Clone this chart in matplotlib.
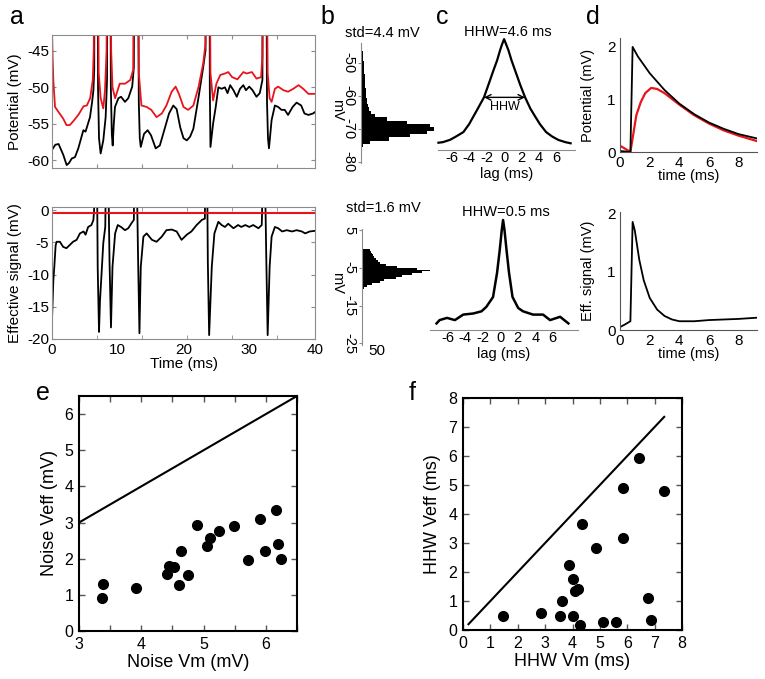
import matplotlib
matplotlib.use('Agg')
import matplotlib.pyplot as plt
import numpy as np

plt.rcParams['font.family'] = ['Liberation Sans', 'DejaVu Sans']
plt.rcParams['axes.unicode_minus'] = False

W, H = 765, 679

# ---------------- data ----------------
# panel a, top: membrane potential (ms, mV)
a_top_black = [(0.0,-58.6),(0.15,-58.4),(0.5,-57.9),(1.0,-57.8),(1.72,-59.3),(2.23,-60.7),(2.6,-60.4),(3.0,-59.8),
    (3.5,-59.6),(4.0,-58.4),(4.77,-55.9),(5.1,-56.1),(5.78,-54.1),(6.1,-52),(6.3,-50.4),(6.42,-47.6),(6.5,-20),
    (6.9,-20),(7.0,-50),(7.15,-57),(7.4,-59.1),(7.8,-57.3),(8.16,-54.1),(8.37,-49),(8.45,-20),(8.85,-20),(8.95,-50),
    (9.1,-56.5),(9.23,-58),(9.4,-55),(9.58,-52.7),(10.1,-51.5),(10.5,-51.3),(11.1,-52),(11.6,-51.5),(12.2,-49.9),
    (12.45,-47.2),(12.55,-20),(13.05,-20),(13.2,-52),(13.35,-57),(13.5,-58.2),(14.0,-56.4),(14.55,-55.9),
    (15.06,-56.6),(15.77,-58.4),(16.4,-58),(17.2,-55.5),(17.8,-53.6),(18.45,-52.5),(18.96,-53),(19.5,-55.5),
    (20.0,-57),(20.5,-57.3),(21.0,-56.8),(21.5,-55.7),(22.3,-51.3),(23.0,-47.2),(23.35,-44.9),(23.45,-20),
    (23.95,-20),(24.0,-50),(24.1,-58.2),(24.5,-55),(24.9,-52.7),(25.3,-50),(25.8,-50.2),(26.3,-50),(26.7,-50.8),
    (27.1,-49.7),(27.6,-50.4),(28.1,-51.3),(28.6,-50.2),(29.1,-49.7),(29.5,-50.4),(30.0,-49.9),(30.5,-50.4),
    (31.1,-51.3),(31.6,-50.8),(32.0,-49),(32.1,-20),(32.55,-20),(32.7,-52),(32.85,-57),(33.0,-58.4),(33.4,-54.5),
    (33.9,-52.5),(34.4,-52.7),(34.9,-53.1),(35.4,-53.1),(35.9,-53.8),(36.6,-52.7),(37.2,-52.1),(37.9,-52.5),
    (38.4,-53.6),(39.0,-53.8),(39.7,-53.6),(40.0,-53.4)]
a_top_red = [(0.0,-42),(0.1,-46),(0.2,-49),(0.46,-52.7),(1.0,-53.4),(1.7,-54.3),(2.2,-55.2),(2.7,-55.2),(3.2,-54.7),
    (4.0,-53.8),(4.8,-52.6),(5.3,-52.5),(5.8,-51.5),(6.2,-49),(6.35,-44.9),(6.42,-20),(6.92,-20),(7.1,-48),
    (7.4,-51.5),(7.8,-52.9),(8.06,-50.4),(8.3,-45),(8.4,-20),(8.85,-20),(9.0,-45),(9.2,-50),(9.6,-51.5),
    (10.3,-49.5),(11.1,-49.5),(11.9,-49),(12.35,-47.6),(12.5,-20),(13.0,-20),(13.2,-48),(13.6,-52.5),(14.4,-52.7),
    (15.1,-53.1),(15.9,-54.1),(16.7,-53.6),(17.4,-52.5),(18.2,-50.6),(18.8,-49.9),(19.3,-50.9),(20.0,-52.7),
    (20.7,-53.1),(21.5,-52.5),(22.3,-49.9),(23.0,-46.7),(23.35,-44),(23.42,-20),(23.92,-20),(24.1,-48),
    (24.5,-51.8),(25.0,-49.5),(25.6,-48.3),(26.3,-48.1),(26.8,-47.9),(27.4,-48.6),(28.2,-48.9),(29.1,-47.9),
    (29.6,-48.1),(30.4,-47.9),(31.1,-48.8),(31.8,-48.6),(32.0,-45.8),(32.08,-20),(32.55,-20),(32.8,-48),
    (33.1,-51.5),(33.4,-52),(33.9,-50.2),(34.4,-49.9),(35.2,-50.4),(35.9,-50.6),(36.7,-50.2),(37.5,-49.7),
    (38.2,-50.2),(39.0,-50.9),(40.0,-50.9)]

# panel a, bottom: effective signal (ms, mV)
a_bot_black = [(0.0,-17),(0.05,-15.5),(0.2,-11),(0.35,-8.8),(0.55,-5.5),(0.7,-4.9),(1.2,-4.9),(1.7,-5.7),(2.2,-5.9),
    (2.7,-5.4),(3.2,-4.9),(3.75,-4.6),(4.25,-3.6),(4.8,-3.3),(5.1,-3.8),(5.5,-2.6),(6.0,-2.3),(6.3,-1.5),(6.4,0),
    (6.45,5),(6.85,5),(6.95,-8.8),(7.15,-18.9),(7.3,-14),(7.45,-11.4),(7.8,-5.1),(8.1,-2.6),(8.2,5),(8.57,5),
    (8.75,-8),(8.97,-18.2),(9.2,-8.8),(9.6,-3.6),(10.0,-2.3),(10.5,-2.6),(11.1,-3.1),(11.6,-2.8),(12.1,-2),
    (12.45,-1.5),(12.5,5),(12.9,5),(13.1,-8),(13.3,-19.1),(13.5,-8.8),(13.9,-4.1),(14.4,-3.6),(15.2,-4.6),
    (15.9,-4.9),(16.7,-4.1),(17.4,-3.1),(18.2,-3.0),(18.96,-3.3),(19.7,-4.6),(20.5,-3.8),(21.2,-3.3),(22.0,-2.3),
    (22.8,-1.5),(23.25,-1.3),(23.3,5),(23.6,5),(23.7,-8),(23.9,-19.4),(24.3,-8.8),(24.7,-3.6),(25.3,-1.8),
    (25.8,-2.3),(26.3,-2.6),(26.8,-2.1),(27.6,-2.8),(28.3,-2.3),(28.8,-2.6),(29.4,-2.3),(30.0,-2.6),(30.6,-2.3),
    (31.4,-2.8),(31.9,-2.3),(31.95,-0.5),(32.0,5),(32.4,5),(32.6,-8),(32.8,-19.4),(33.1,-8.8),(33.4,-4.1),
    (33.9,-2.6),(34.4,-2.8),(35.0,-3.3),(35.7,-3.1),(36.5,-3.3),(37.2,-3.1),(38.0,-3.3),(38.5,-3.6),(39.2,-3.3),
    (40.0,-3.2)]
a_threshold = -0.5

# panel b: histograms (bin centre mV, count)
b_top_mv = [-44,-45,-46,-47,-48,-49,-50,-51,-52,-53,-54,-55,-56,-57,-58,-59,-60,-61,-62,-63,-64,-65,-66,-67,
            -68,-69,-70,-71,-72,-73,-74,-75,-76]
b_top_cnt = [0.5,1,1.2,1.5,2,2.3,2.7,2.9,3.1,3.3,3.5,3.8,4,4.3,4.7,5,5.3,5.6,6,7,8.3,10,14,26,
             46,69,73,66,49,28,9,2,0.5]
b_bot_mv = [-0.25,-0.75,-1.25,-1.75,-2.25,-2.75,-3.25,-3.75,-4.25,-4.75,-5.25,-5.75,-6.25,-6.75,-7.25,
            -7.75,-8.25,-8.75,-9.25,-9.75,-10.25]
b_bot_cnt = [8,9,10,11,12,14,16,18,24,35,55,72,60,50,40,34,22,18,10,5,2]

# panel c: autocorrelations (lag ms, normalised)
c_top_lag = [-7.5,-7.0,-6.2,-5.5,-4.65,-4.0,-3.5,-3.0,-2.3,-1.8,-1.22,-0.8,-0.46,-0.25,0,
             0.25,0.5,0.85,1.26,1.85,2.4,3.0,3.54,4.1,4.8,5.5,6.2,7.0,7.6]
c_top_val = [0.065,0.07,0.09,0.12,0.16,0.23,0.30,0.37,0.47,0.58,0.71,0.80,0.89,0.94,0.99,
             0.94,0.89,0.80,0.71,0.58,0.47,0.37,0.30,0.23,0.16,0.12,0.09,0.07,0.06]
c_bot_lag = [-7.3,-6.95,-6.1,-5.2,-4.25,-3.1,-2.15,-1.6,-0.83,-0.37,-0.06,0.17,0.32,0.48,0.71,1.0,1.4,
             2.05,2.6,3.75,4.9,5.7,6.85,7.8]
c_bot_val = [0.06,0.09,0.11,0.09,0.14,0.15,0.17,0.21,0.30,0.52,0.73,0.91,1.0,0.91,0.73,0.52,0.30,
             0.20,0.17,0.14,0.14,0.09,0.12,0.06]

# panel d: PSP shapes (ms, mV)
d_t_black = [0,0.7,0.85,1.2,2,3,4,5,6,7,8,9.2]
d_v_black = [0.02,0.0,2.0,1.82,1.5,1.18,0.92,0.72,0.56,0.44,0.34,0.26]
d_t_red = [0,0.3,0.7,0.9,1.1,1.4,1.7,2.1,2.5,3,4,5,6,7,8,9.2]
d_v_red = [0.12,0.07,0.0,0.35,0.7,0.95,1.12,1.22,1.2,1.12,0.9,0.7,0.54,0.41,0.31,0.21]
d_t_eff = [0,0.3,0.7,0.85,1.0,1.3,1.6,2.0,2.5,3.0,3.5,4,5,6,7,8,9.2]
d_v_eff = [0.05,0.09,0.15,1.85,1.7,1.2,0.85,0.55,0.35,0.24,0.18,0.15,0.15,0.17,0.18,0.19,0.21]

# panel e: noise (mV)
e_vm = [3.37,3.39,3.91,4.41,4.45,4.52,4.61,4.63,4.75,4.89,5.06,5.10,5.25,5.49,5.72,5.91,5.98,6.17,6.20,6.24]
e_veff = [0.90,1.31,1.19,1.57,1.80,1.77,1.28,2.21,1.55,2.93,2.35,2.58,2.76,2.91,1.96,3.11,2.22,3.34,2.40,2.00]

# panel f: half-height widths (ms)
f_vm = [1.46,2.86,3.53,3.63,3.86,4.03,4.03,4.10,4.21,4.27,4.36,4.86,5.12,5.60,5.86,5.86,6.44,6.77,6.87,7.34]
f_veff = [0.48,0.58,0.48,1.01,2.25,1.75,0.48,1.35,1.41,0.16,3.64,2.83,0.26,0.26,3.17,4.89,5.92,1.09,0.35,4.80]


def rect(x0, y0, x1, y1):
    return [x0 / W, 1 - y1 / H, (x1 - x0) / W, (y1 - y0) / H]


fig = plt.figure(figsize=(W / 100, H / 100), dpi=100)


def ftxt(x, y, s, **kw):
    kw.setdefault('ha', 'center')
    kw.setdefault('va', 'center')
    fig.text(x / W, 1 - y / H, s, **kw)


gray = '#8c8c8c'

####### panel a
ax = fig.add_axes(rect(52, 35, 315, 168))
t, v = zip(*a_top_black)
ax.plot(t, v, color='black', lw=1.3)
t, v = zip(*a_top_red)
ax.plot(t, v, color='#e8141c', lw=1.3)
ax.set_xlim(0, 40)
ax.set_ylim(-61.1, -42.8)
ax.set_yticks([-45, -50, -55, -60])
ax.set_xticks([6.84, 13.68, 20.52, 27.36, 34.2])
ax.set_xticklabels([])
ax.tick_params(direction='in', top=True, right=True, length=3, color=gray, labelsize=11, pad=2)
for s in ax.spines.values():
    s.set_color(gray)
ax.set_ylabel('Potential (mV)', fontsize=11)
ax.yaxis.set_label_coords(-0.115, 0.5)

ax = fig.add_axes(rect(52, 207, 315, 339))
t, v = zip(*a_bot_black)
ax.plot(t, v, color='black', lw=1.3)
ax.axhline(a_threshold, color='#e8141c', lw=1.5)
ax.set_xlim(0, 40)
ax.set_ylim(-20, 0.5)
ax.set_yticks([0, -5, -10, -15, -20])
ax.set_xticks([0, 10, 20, 30, 40])
ax.set_xticks([6.84, 13.68, 20.52, 27.36, 34.2], minor=True)
ax.tick_params(which='major', axis='x', length=0, labelsize=11, pad=3)
ax.tick_params(which='minor', direction='in', top=True, length=3, color=gray)
ax.tick_params(axis='y', direction='in', right=True, length=3, color=gray, labelsize=11, pad=2)
for s in ax.spines.values():
    s.set_color(gray)
ax.set_ylabel('Effective signal (mV)', fontsize=11)
ax.yaxis.set_label_coords(-0.115, 0.5)
ax.set_xlabel('Time (ms)', fontsize=11)
ax.xaxis.set_label_coords(0.5, -0.14)

####### panel b
for r, mv, cnt, lim, ticks in [((361, 43, 436, 163), b_top_mv, b_top_cnt, (-80.3, -44), [-50, -60, -70, -80]),
                               ((362, 229, 437, 345), b_bot_mv, b_bot_cnt, (-25.4, 5.2), [5, -5, -15, -25])]:
    ax = fig.add_axes(rect(*r))
    step = abs(mv[1] - mv[0])
    ax.barh(mv, cnt, height=step, color='black', linewidth=0)
    ax.set_xlim(0, 75)
    ax.set_ylim(*lim)
    ax.set_yticks(ticks)
    ax.set_yticklabels([str(k) for k in ticks], rotation=270, va='center')
    ax.set_xticks([])
    for k in ['top', 'right', 'bottom']:
        ax.spines[k].set_visible(False)
    ax.spines['left'].set_color(gray)
    ax.tick_params(axis='y', length=2, color=gray, labelsize=10.5, pad=2)
ftxt(382, 33, 'std=4.4 mV', fontsize=10.5)
ftxt(383, 208, 'std=1.6 mV', fontsize=10.5)
ftxt(337, 110, 'mV', fontsize=10.5, rotation=270)
ftxt(337, 283, 'mV', fontsize=10.5, rotation=270)
ftxt(377, 351, '50', fontsize=11)

####### panel c
ax = fig.add_axes(rect(438, 38, 575, 150))
ax.plot(c_top_lag, c_top_val, color='black', lw=1.6, clip_on=False)
ax.annotate('', xy=(2.4, 0.47), xytext=(-2.3, 0.47),
            arrowprops=dict(arrowstyle='<->', lw=1, color='black', shrinkA=0, shrinkB=0))
ax.text(0.05, 0.385, 'HHW', fontsize=9, ha='center', va='center')
ax.set_xlim(-7.55, 8.1)
ax.set_ylim(0, 1)
ax_c = [ax]
ax = fig.add_axes(rect(430, 220, 578, 330))
ax.plot(c_bot_lag, c_bot_val, color='black', lw=1.8, clip_on=False)
ax.set_xlim(-8.05, 8.9)
ax.set_ylim(0, 1)
ax_c.append(ax)
for ax in ax_c:
    ax.set_xticks([-6, -4, -2, 0, 2, 4, 6])
    ax.set_yticks([])
    for k in ['top', 'right', 'left']:
        ax.spines[k].set_visible(False)
    ax.spines['bottom'].set_color(gray)
    ax.tick_params(axis='x', length=0, labelsize=10.5, pad=1)
    ax.set_xlabel('lag (ms)', fontsize=10.5)
    ax.xaxis.set_label_coords(0.5, -0.155)
ftxt(508, 32, 'HHW=4.6 ms', fontsize=10.5)
ftxt(506, 212, 'HHW=0.5 ms', fontsize=10.5)

####### panel d
ax = fig.add_axes(rect(620, 38, 757, 152))
ax.plot(d_t_red, d_v_red, color='#e8141c', lw=1.6)
ax.plot(d_t_black, d_v_black, color='black', lw=1.3)
ax.set_ylim(0, 2.17)
ax.set_ylabel('Potential (mV)', fontsize=10.5)
ax_d = [ax]
ax = fig.add_axes(rect(620, 212, 757, 330))
ax.plot(d_t_eff, d_v_eff, color='black', lw=1.3)
ax.set_ylim(0, 2.02)
ax.set_ylabel('Eff. signal (mV)', fontsize=10.5)
ax_d.append(ax)
for ax in ax_d:
    ax.set_xlim(0, 9.23)
    ax.set_xticks([0, 2, 4, 6, 8])
    ax.set_yticks([0, 1, 2])
    for k in ['top', 'right']:
        ax.spines[k].set_visible(False)
    ax.spines['left'].set_color('#555555')
    ax.spines['bottom'].set_color('#555555')
    ax.tick_params(length=0, labelsize=11, pad=3)
    ax.set_xlabel('time (ms)', fontsize=10.5, labelpad=-1)
    ax.yaxis.set_label_coords(-0.18, 0.5)

####### panel e
ax = fig.add_axes(rect(79, 396, 297, 631))
ax.plot([3, 6.5], [3, 6.5], color='black', lw=1.5)
ax.plot(e_vm, e_veff, 'o', color='black', ms=7)
ax.set_xlim(3, 6.5)
ax.set_ylim(0, 6.5)
ax.set_xticks([3, 4, 5, 6])
ax.set_xticks([3.5, 4.5, 5.5, 6.5], minor=True)
ax.set_yticks([0, 1, 2, 3, 4, 5, 6])
ax.set_xlabel('Noise Vm (mV)', fontsize=13, labelpad=2)
ax.set_ylabel('Noise Veff (mV)', fontsize=13, labelpad=5)
ax_ef = [ax]

####### panel f
ax = fig.add_axes(rect(463, 398, 682, 630))
ax.plot([0.2, 7.35], [0.2, 7.35], color='black', lw=1.5)
ax.plot(f_vm, f_veff, 'o', color='black', ms=7)
ax.set_xlim(0, 8)
ax.set_ylim(0, 8)
ax.set_xticks(range(9))
ax.set_yticks(range(9))
ax.set_xlabel('HHW Vm (ms)', fontsize=13, labelpad=2)
ax.set_ylabel('HHW Veff (ms)', fontsize=13, labelpad=5)
ax_ef.append(ax)
for ax in ax_ef:
    for s in ax.spines.values():
        s.set_linewidth(1.5)
    ax.tick_params(which='both', direction='in', top=True, right=True, length=4, width=1,
                   color='#555555', labelsize=11.5, pad=4)

####### panel letters
ftxt(17, 17, 'a', fontsize=18)
ftxt(327, 17, 'b', fontsize=18)
ftxt(442, 17, 'c', fontsize=18)
ftxt(593, 17, 'd', fontsize=18)
ftxt(43, 393, 'e', fontsize=18)
ftxt(412, 393, 'f', fontsize=18)

fig.savefig('out.png', dpi=100)
